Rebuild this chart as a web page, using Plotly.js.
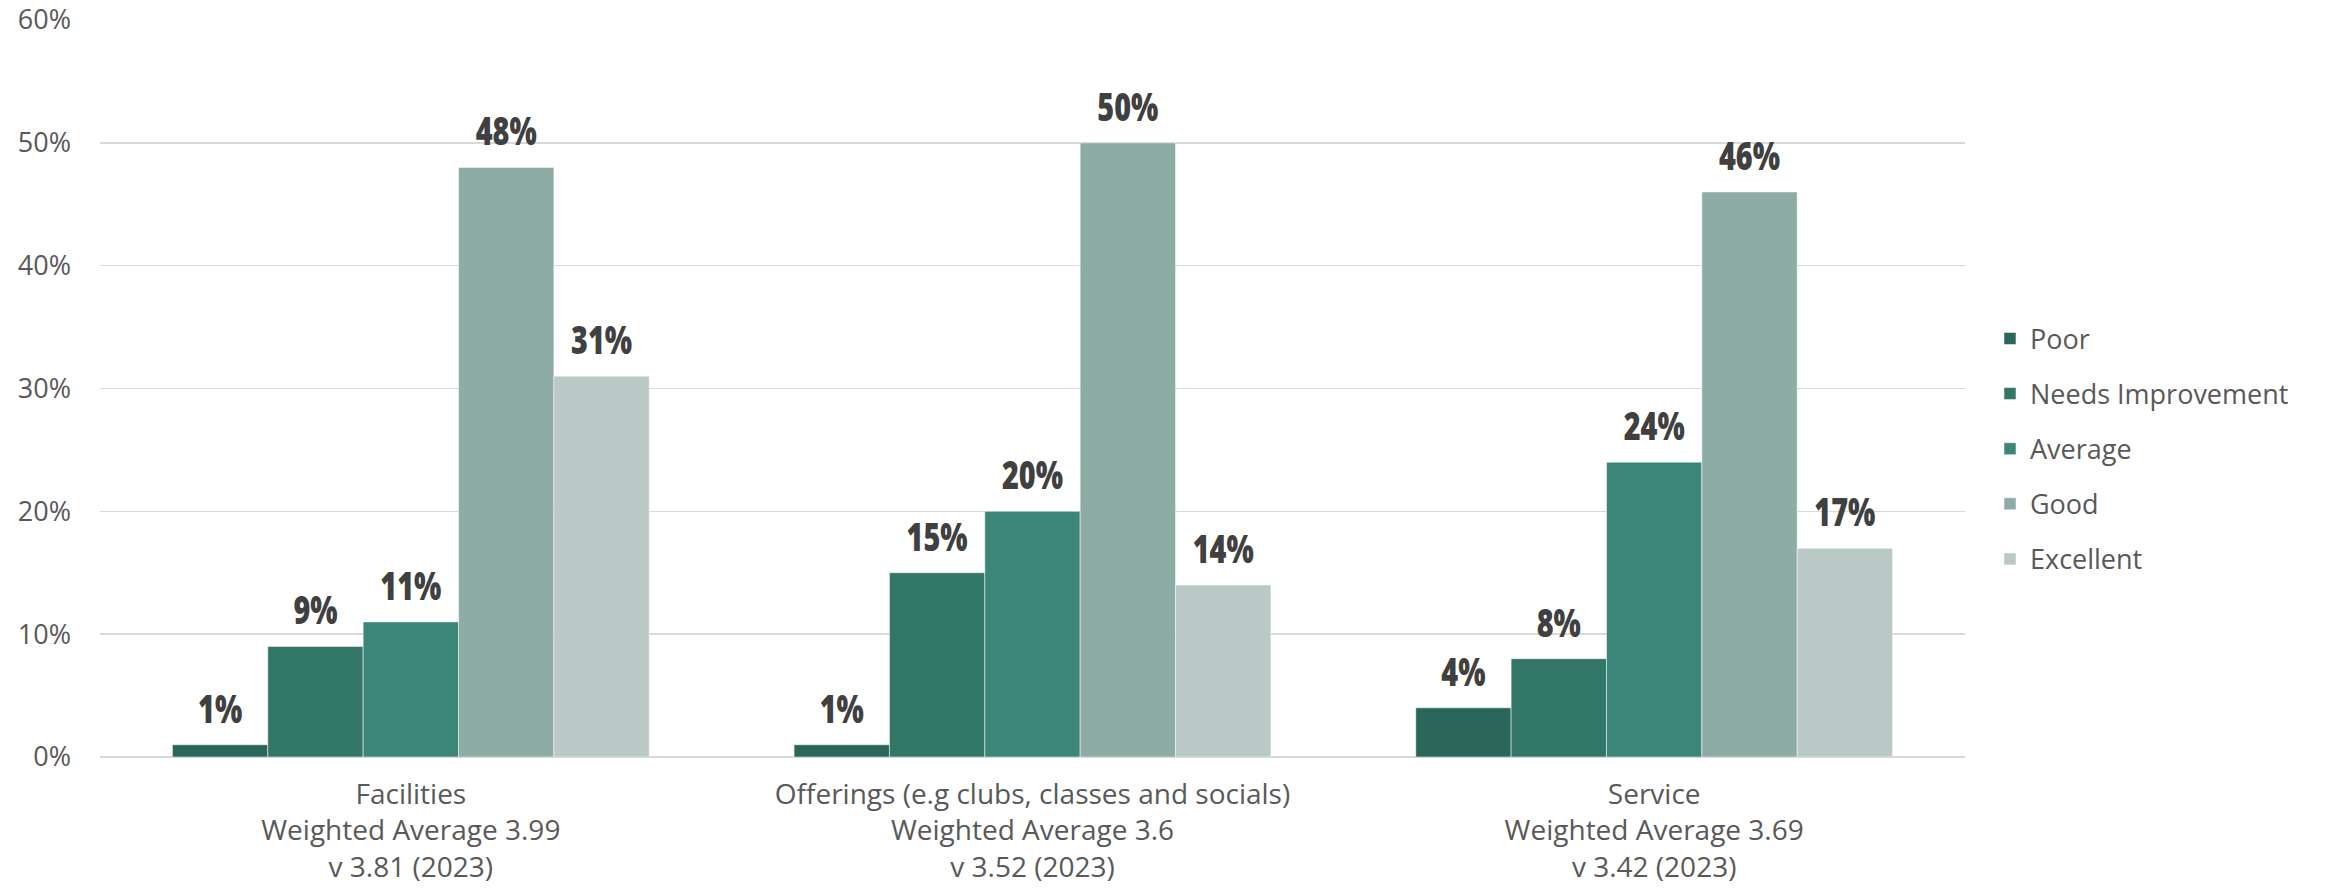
<!DOCTYPE html>
<html>
<head>
<meta charset="utf-8">
<script src="https://cdn.plot.ly/plotly-3.0.1.min.js"></script>
<style>
  html, body { margin: 0; padding: 0; background: #ffffff; }
  #chart { width: 2331px; height: 892px; }
  /* condense the bold value labels (Impact-like look) */
  #chart .textpoint text {
    transform-box: fill-box;
    transform-origin: 50% 100%;
    transform: scale(0.8, 1.08);
  }
</style>
</head>
<body>
<div id="chart"></div>
<script>
// ---- Data ----
const categories = [
  "Facilities<br>Weighted Average 3.99<br>v 3.81 (2023)",
  "Offerings (e.g clubs, classes and socials)<br>Weighted Average 3.6<br>v 3.52 (2023)",
  "Service<br>Weighted Average 3.69<br>v 3.42 (2023)"
];
const seriesNames = ["Poor", "Needs Improvement", "Average", "Good", "Excellent"];
const poor = [1, 1, 4];
const needsImprovement = [9, 15, 8];
const average = [11, 20, 24];
const good = [48, 50, 46];
const excellent = [31, 14, 17];
const seriesValues = [poor, needsImprovement, average, good, excellent];
const seriesColors = ["#2a665a", "#327668", "#3b8678", "#8eaca6", "#b9c9c5"];
const yTicks = [0, 10, 20, 30, 40, 50, 60];

// ---- Traces ----
const traces = [];
seriesNames.forEach((name, i) => {
  traces.push({
    type: "bar",
    name: name,
    x: categories,
    y: seriesValues[i],
    offsetgroup: "g" + i,
    legendgroup: "lg" + i,
    marker: { color: seriesColors[i], line: { color: "rgba(255,255,255,0.5)", width: 1 } },
    hoverinfo: "skip"
  });
});
// value labels (text overlay aligned to the grouped bars)
seriesNames.forEach((name, i) => {
  traces.push({
    type: "scatter",
    mode: "markers+text",
    name: name + " label",
    x: categories,
    y: seriesValues[i],
    offsetgroup: "g" + i,
    showlegend: false,
    marker: { size: 18, opacity: 0, color: seriesColors[i] },
    text: seriesValues[i].map(v => v + "%"),
    textposition: "top center",
    textfont: { family: "Open Sans, sans-serif", size: 36, color: "#404040", weight: 800 },
    cliponaxis: false,
    hoverinfo: "skip"
  });
});

const layout = {
  width: 2331,
  height: 892,
  margin: { l: 100, r: 366, t: 20, b: 135 },
  paper_bgcolor: "#ffffff",
  plot_bgcolor: "#ffffff",
  barmode: "group",
  bargap: 0.233,
  bargroupgap: 0,
  scattermode: "group",
  scattergap: 0.233,
  font: { family: "Open Sans, sans-serif", color: "#595959", size: 27 },
  xaxis: {
    type: "category",
    showgrid: false,
    showline: false,
    zeroline: false,
    ticks: "",
    tickfont: { size: 28, color: "#595959" },
    ticklabelstandoff: 18
  },
  yaxis: {
    range: [0, 60],
    tickvals: yTicks,
    ticktext: yTicks.map(v => v + "%"),
    showgrid: true,
    gridcolor: "#d9d9d9",
    gridwidth: 1.5,
    zeroline: true,
    zerolinecolor: "#d9d9d9",
    zerolinewidth: 1.5,
    showline: false,
    ticks: "",
    tickfont: { size: 27, color: "#595959" },
    ticklabelstandoff: 28
  },
  showlegend: true,
  legend: {
    x: 1.0134,
    xanchor: "left",
    y: 0.418,
    yanchor: "middle",
    traceorder: "grouped",
    tracegroupgap: 17,
    font: { size: 27, color: "#595959" },
    bgcolor: "rgba(0,0,0,0)"
  }
};

Plotly.newPlot("chart", traces, layout, { displayModeBar: false, staticPlot: true });
</script>
</body>
</html>
